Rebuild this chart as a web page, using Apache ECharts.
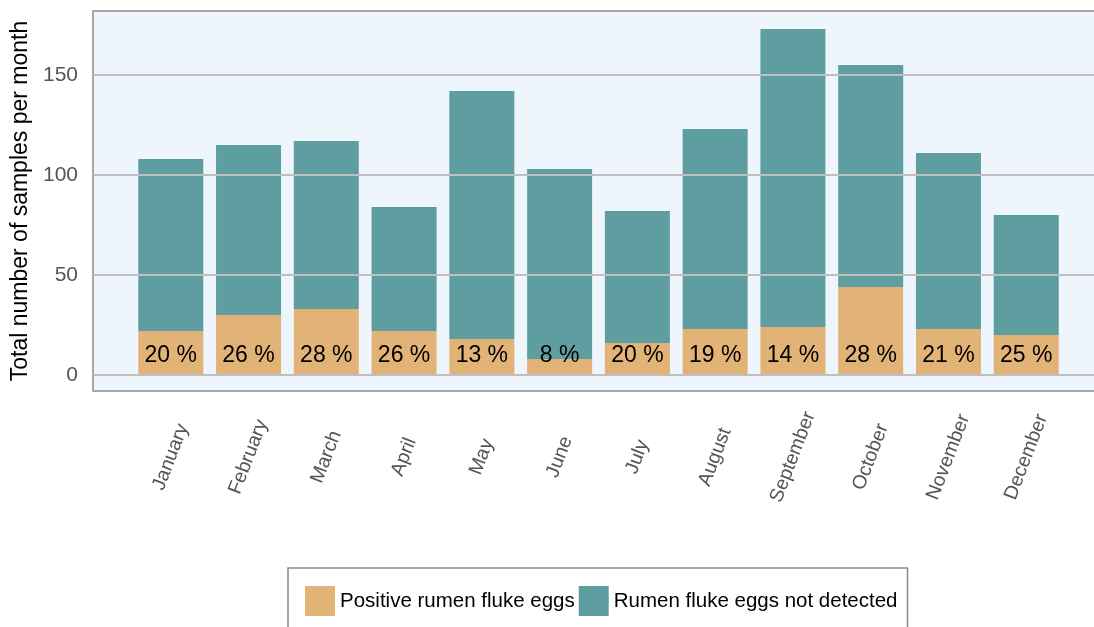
<!DOCTYPE html>
<html>
<head>
<meta charset="utf-8">
<script src="https://cdn.jsdelivr.net/npm/echarts@6/dist/echarts.min.js"></script>
<style>
  html, body { margin: 0; padding: 0; background: #ffffff; }
  #chart { width: 1094px; height: 627px; }
</style>
</head>
<body>
<div id="chart"></div>
<script>
// ---- Data ----
const months = ['January', 'February', 'March', 'April', 'May', 'June', 'July', 'August', 'September', 'October', 'November', 'December'];
const totalSamples = [108, 115, 117, 84, 142, 103, 82, 123, 173, 155, 111, 80];
const positiveSamples = [22, 30, 33, 22, 18, 8, 16, 23, 24, 44, 23, 20];
const percentLabels = ['20 %', '26 %', '28 %', '26 %', '13 %', '8 %', '20 %', '19 %', '14 %', '28 %', '21 %', '25 %'];
const yTickValues = [0, 50, 100, 150];
const seriesNames = ['Positive rumen fluke eggs', 'Rumen fluke eggs not detected'];
const yAxisTitle = 'Total number of samples per month';

const notDetected = totalSamples.map((t, i) => t - positiveSamples[i]);
// empty slots at both ends give the plot its side margins
const axisCategories = [''].concat(months, ['']);
const FONT = 'Liberation Sans, Arial, sans-serif';

const chart = echarts.init(document.getElementById('chart'), null, { renderer: 'canvas' });
chart.setOption({
  animation: false,
  textStyle: { fontFamily: FONT },
  grid: {
    left: 93, top: 11, width: 1011, bottom: 236,
    outerBoundsMode: 'none',
    containLabel: false,
    show: true,
    backgroundColor: '#eef5fd',
    borderColor: '#a8a8a8',
    borderWidth: 2
  },
  legend: {
    left: 288, top: 568,
    padding: [18, 10, 40, 17],
    borderColor: '#8a8a8a',
    borderWidth: 1.5,
    itemWidth: 30, itemHeight: 30, itemGap: 4,
    icon: 'rect',
    textStyle: { fontSize: 20.5, color: '#000', fontFamily: FONT },
    data: seriesNames
  },
  xAxis: {
    type: 'category',
    data: axisCategories,
    boundaryGap: false,
    axisLine: { show: false },
    axisTick: { show: false },
    splitLine: { show: false },
    axisLabel: {
      interval: 0,
      rotate: 69,
      align: 'center',
      verticalAlign: 'middle',
      margin: 66,
      fontSize: 19.5,
      color: '#555',
      fontFamily: FONT
    }
  },
  yAxis: {
    type: 'value',
    min: -8, max: 182,
    name: yAxisTitle,
    nameLocation: 'middle',
    nameGap: 48,
    nameTextStyle: { fontSize: 23, color: '#000', fontFamily: FONT },
    axisLine: { show: false },
    axisTick: { show: false },
    splitLine: { show: false },
    axisLabel: {
      customValues: yTickValues,
      margin: 15,
      fontSize: 21,
      color: '#555',
      fontFamily: FONT
    }
  },
  series: [
    {
      type: 'line',
      data: [],
      z: 1,
      silent: true,
      markLine: {
        silent: true,
        symbol: ['none', 'none'],
        label: { show: false },
        lineStyle: { color: '#bfbfbf', width: 2, type: 'solid' },
        data: yTickValues.map(v => ({ yAxis: v }))
      }
    },
    {
      name: seriesNames[0],
      type: 'bar',
      stack: 'total',
      z: 2,
      barWidth: 65,
      itemStyle: { color: '#e2b377' },
      label: {
        show: true,
        position: 'insideBottom',
        distance: 8,
        fontSize: 23,
        color: '#000',
        fontFamily: FONT,
        formatter: p => percentLabels[p.dataIndex]
      },
      data: positiveSamples.map((v, i) => [months[i], v])
    },
    {
      name: seriesNames[1],
      type: 'bar',
      stack: 'total',
      z: 2,
      barWidth: 65,
      itemStyle: { color: '#5f9ea0' },
      data: notDetected.map((v, i) => [months[i], v])
    }
  ]
});
</script>
</body>
</html>
